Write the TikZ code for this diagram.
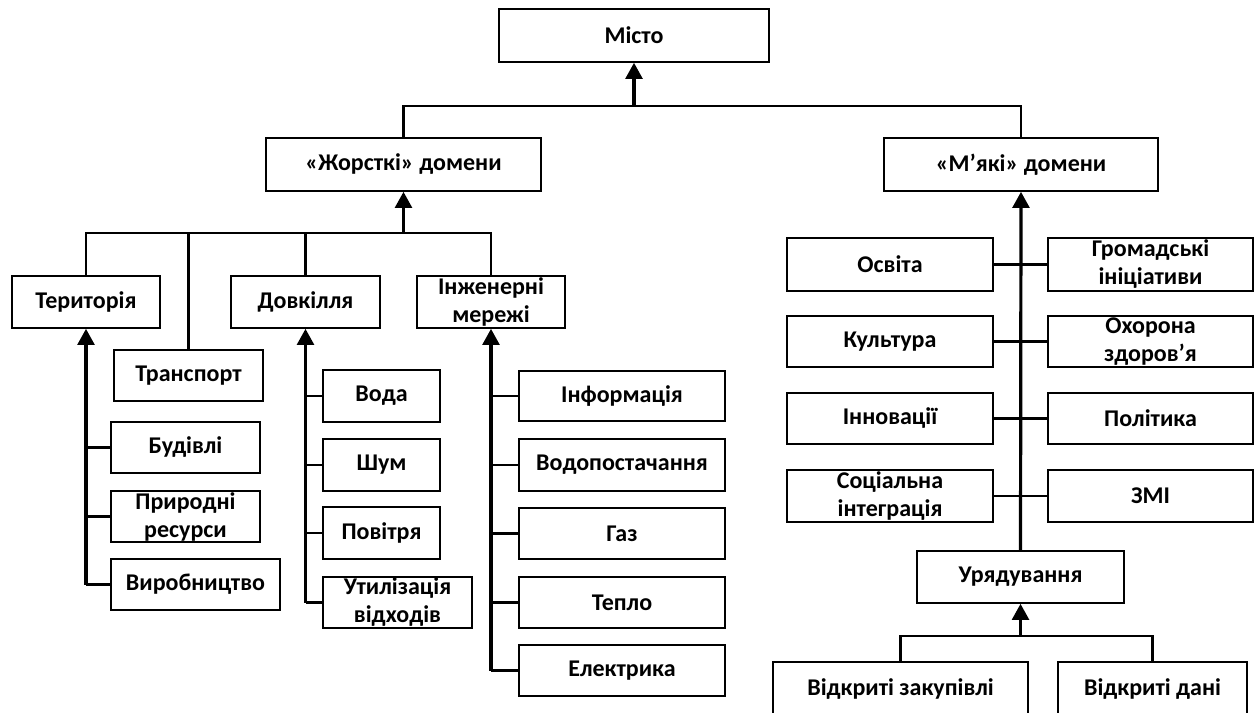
\documentclass[tikz,border=0pt]{standalone}
\usepackage{fontspec}
\setmainfont{Carlito}
\usetikzlibrary{arrows.meta}
% \boxnode{name}{x1}{y1}{x2}{y2}{text}: a framed box given by its corners
\newcommand\boxnode[6]{%
  \node[box, minimum width={(#4-#2)*0.75pt}, minimum height={(#5-#3)*0.75pt}]
    (#1) at ({(#2+#4)/2},{(#3+#5)/2}) {#6};}
\begin{document}
\begin{tikzpicture}[x=0.75pt,y=-0.75pt,
  box/.style={draw, line width=1.2pt, inner sep=0pt, align=center,
    font=\fontsize{18}{21}\selectfont\bfseries},
  conn/.style={line width=1.7pt},
  trunk/.style={line width=2.4pt, -{Triangle[width=12.5pt,length=12pt]}}]
\useasboundingbox (0,0) rectangle (1255,713);
\clip (0,0) rectangle (1255,713);

% top levels
\boxnode{city}{499}{9}{769}{62}{Місто}
\boxnode{hard}{266}{138}{541}{191}{«Жорсткі» домени}
\boxnode{soft}{884}{138}{1158}{191}{«М’які» домени}

% hard domains
\boxnode{terr}{12}{276}{160}{328}{Територія}
\boxnode{env}{231}{276}{380}{328}{Довкілля}
\boxnode{eng}{417}{276}{565}{328}{Інженерні\\мережі}
\boxnode{trans}{114}{350}{263}{401}{Транспорт}

\boxnode{bld}{111}{422}{260}{473}{Будівлі}
\boxnode{nat}{111}{491}{260}{542}{Природні\\ресурси}
\boxnode{prod}{111}{559}{280}{610}{Виробництво}

\boxnode{water}{323}{370}{440}{422}{Вода}
\boxnode{noise}{323}{439}{440}{491}{Шум}
\boxnode{air}{323}{507}{440}{559}{Повітря}
\boxnode{waste}{323}{577}{472}{628}{Утилізація\\відходів}

\boxnode{info}{519}{371}{725}{421}{Інформація}
\boxnode{wsup}{519}{439}{725}{491}{Водопостачання}
\boxnode{gas}{519}{508}{725}{559}{Газ}
\boxnode{heat}{519}{577}{725}{628}{Тепло}
\boxnode{elec}{519}{645}{725}{696}{Електрика}

% soft domains
\boxnode{edu}{787}{238}{993}{291}{Освіта}
\boxnode{civic}{1048}{238}{1253}{291}{Громадські\\ініціативи}
\boxnode{cult}{787}{316}{993}{367}{Культура}
\boxnode{health}{1048}{316}{1253}{367}{Охорона\\здоров’я}
\boxnode{innov}{787}{393}{993}{444}{Інновації}
\boxnode{pol}{1048}{393}{1253}{444}{Політика}
\boxnode{soc}{787}{470}{993}{522}{Соціальна\\інтеграція}
\boxnode{media}{1048}{470}{1253}{522}{ЗМІ}
\boxnode{gov}{917}{551}{1124}{603}{Урядування}
\boxnode{proc}{773}{662}{1028}{716}{Відкриті закупівлі}
\boxnode{odata}{1058}{662}{1247}{716}{Відкриті дані}

% city level
\coordinate (j0) at (634,106);
\draw[conn] (hard.north) |- (j0) -| (soft.north);
\draw[trunk] (j0) -- (city.south);

% hard domains level
\coordinate (j1) at (403.5,233);
\draw[conn] (terr.north) |- (j1) -| (eng.north);
\draw[conn] (trans.north) -- (trans.north |- j1);
\draw[conn] (env.north) -- (env.north |- j1);
\draw[trunk] (j1) -- (hard.south);

% territory
\draw[trunk] (terr.south |- prod.west) -- (terr.south);
\foreach \n in {bld,nat,prod} \draw[conn] (\n.west) -- (\n.west -| terr.south);

% environment
\draw[trunk] (env.south |- waste.west) -- (env.south);
\foreach \n in {water,noise,air,waste} \draw[conn] (\n.west) -- (\n.west -| env.south);

% engineering networks
\draw[trunk] (eng.south |- elec.west) -- (eng.south);
\foreach \n in {info,wsup,gas,heat,elec} \draw[conn] (\n.west) -- (\n.west -| eng.south);

% soft domains
\draw[trunk] (gov.north) -- (soft.south);
\draw[conn] (edu.east) -- (civic.west);
\draw[conn] (cult.east) -- (health.west);
\draw[conn] (innov.east) -- (pol.west);
\draw[conn] (soc.east) -- (media.west);

% governance
\coordinate (j2) at (1020.5,636);
\draw[conn] (proc.north) |- (j2) -| (odata.north);
\draw[trunk] (j2) -- (gov.south);
\end{tikzpicture}
\end{document}
